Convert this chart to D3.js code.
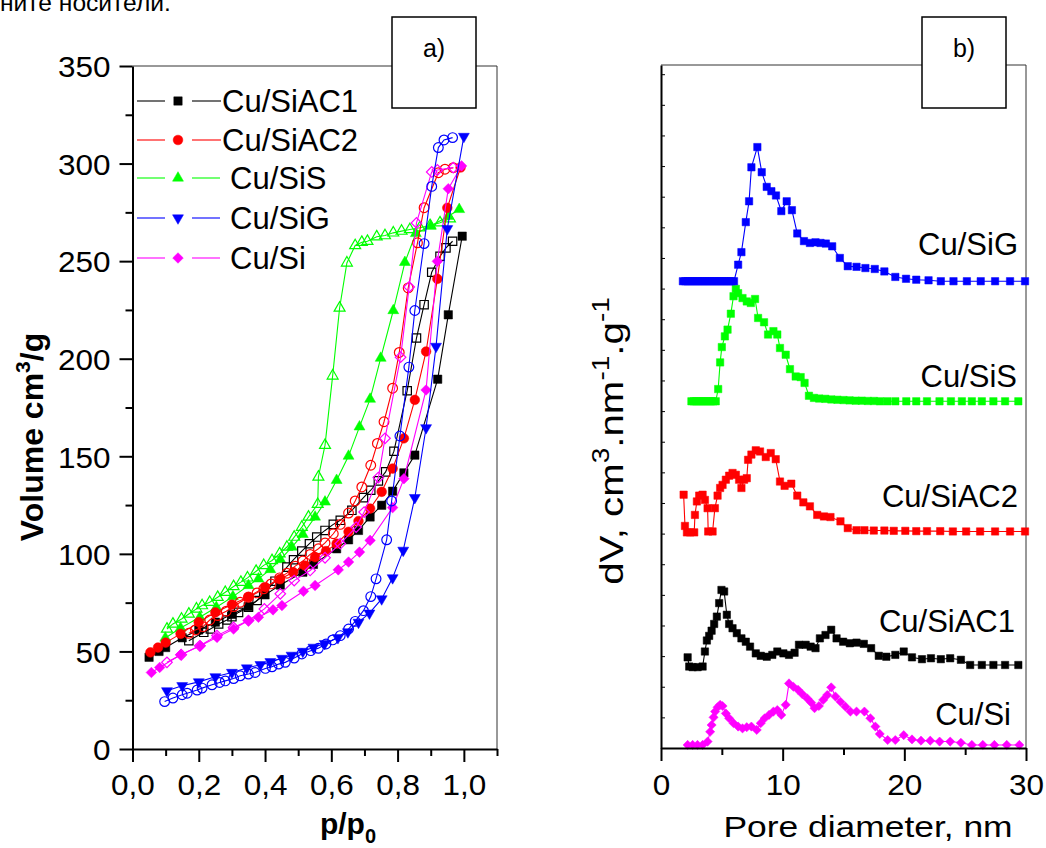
<!DOCTYPE html>
<html><head><meta charset="utf-8">
<script src="https://cdn.jsdelivr.net/npm/d3@7"></script>
<style>html,body{margin:0;padding:0;background:#fff;}svg{display:block;}</style>
</head><body>
<svg id="c" width="1046" height="848"></svg>
<script>
// ---------------- DATA ----------------
// Panel a: N2 isotherms, [p/p0, Volume cm3/g]
const seriesNames = ["Cu/SiAC1", "Cu/SiAC2", "Cu/SiS", "Cu/SiG", "Cu/Si"];
const xTicksA = [0, 0.2, 0.4, 0.6, 0.8, 1.0];
const yTicksA = [0, 50, 100, 150, 200, 250, 300, 350];
const xTicksB = [0, 10, 20, 30];

const ac1Ads = [[0.05,47],[0.08,50],[0.10,52],[0.15,57],[0.20,61],[0.25,65],[0.30,69],[0.35,73],[0.40,79],[0.446,84],[0.514,90.6],[0.546,94.6],[0.616,102.6],[0.652,107.2],[0.682,112],[0.717,118.9],[0.752,124.9],[0.785,132.1],[0.819,141.5],[0.852,150.6],[0.921,189.5],[0.953,222.5],[0.995,262.8]];
const ac1Des = [[0.966,260.2],[0.946,256.8],[0.928,252.5],[0.903,244.3],[0.880,227.7],[0.857,210.6],[0.829,183.6],[0.789,152.6],[0.764,142],[0.742,137.4],[0.719,132.6],[0.697,128.8],[0.662,122.3],[0.627,117.2],[0.606,115.1],[0.581,112],[0.556,108.6],[0.534,105.2],[0.511,101.4],[0.486,97],[0.466,93.2],[0.43,86],[0.396,79.5],[0.376,76.1],[0.35,72.6],[0.32,70],[0.30,67.8],[0.285,66.1],[0.26,64.1],[0.235,61.5],[0.215,59.8],[0.17,55.5]];

const ac2Ads = [[0.054,49.5],[0.077,52],[0.10,54.5],[0.145,59],[0.20,65],[0.25,70],[0.30,74],[0.35,78],[0.40,83],[0.445,87],[0.485,90.6],[0.52,94],[0.551,98.3],[0.584,101.4],[0.616,105.2],[0.652,111.3],[0.682,116.8],[0.717,123.2],[0.752,131.8],[0.785,143.7],[0.819,159.2],[0.852,178.9],[0.886,203.7],[0.920,240.9],[0.950,277.3],[0.99,298]];
const ac2Des = [[0.968,297.9],[0.943,297.1],[0.923,295.3],[0.880,277.4],[0.860,259.4],[0.832,236.3],[0.805,203.2],[0.785,184.9],[0.759,167.7],[0.739,156.6],[0.719,145.4],[0.692,134.3],[0.672,127.1],[0.652,120.9],[0.627,115.1],[0.606,110.3],[0.581,105.6],[0.561,102.6],[0.536,99.7],[0.514,96.3],[0.491,93.7],[0.466,90.1],[0.444,87.7],[0.418,84.6],[0.396,82.1],[0.376,80],[0.35,77.8],[0.325,75.2],[0.305,73],[0.283,70.6],[0.257,68.4],[0.233,66.1],[0.213,62.7],[0.19,61],[0.17,59.3]];

const sAds = [[0.099,56.9],[0.145,62],[0.203,67.5],[0.253,72.6],[0.303,78.1],[0.35,83.8],[0.38,87.2],[0.416,92],[0.446,97.1],[0.481,103.5],[0.514,110],[0.551,118.9],[0.581,126.6],[0.616,137.7],[0.652,150.1],[0.685,165.1],[0.717,179.3],[0.749,200.3],[0.787,224.7],[0.822,249.4],[0.855,264.2],[0.90,268],[0.953,273],[0.986,276.5]];
const sDes = [[0.958,271.7],[0.928,269.7],[0.898,268.3],[0.867,267.1],[0.837,266.2],[0.812,265.4],[0.787,264.5],[0.762,263.1],[0.737,262.5],[0.709,260.2],[0.692,259.7],[0.672,258],[0.647,249.1],[0.625,226],[0.604,191.2],[0.581,155.7],[0.561,139.4],[0.559,125.4],[0.531,118.9],[0.511,113.7],[0.488,108.6],[0.466,103.5],[0.444,100.1],[0.421,96.6],[0.396,94.1],[0.373,91.1],[0.347,87.7],[0.327,85.5],[0.305,83.3],[0.28,80.3],[0.257,77.8],[0.233,75.2],[0.21,73.5],[0.193,71.8],[0.17,69.2],[0.148,66.6],[0.122,64.1],[0.104,61.5]];

const gAds = [[0.104,29.8],[0.15,32.4],[0.20,34.4],[0.25,37],[0.30,39.2],[0.345,41.5],[0.386,43.2],[0.416,44.7],[0.451,46.4],[0.48,48],[0.514,50],[0.546,52.1],[0.58,54],[0.62,57],[0.65,60],[0.682,64.9],[0.715,69.6],[0.752,76.9],[0.785,87.7],[0.817,101.8],[0.852,128.8],[0.886,164.6],[0.916,206.3],[0.950,266.6],[1.0,313.9]];
const gDes = [[0.966,313.3],[0.940,312.1],[0.923,308.2],[0.903,288.3],[0.880,259],[0.852,224.7],[0.834,195.7],[0.807,160.4],[0.782,127.1],[0.767,107.2],[0.735,87.2],[0.719,78.1],[0.697,70.9],[0.672,65.4],[0.652,61.5],[0.627,58.1],[0.604,55.9],[0.584,53.8],[0.561,51.6],[0.538,50.4],[0.511,48.7],[0.488,46.6],[0.461,44.4],[0.441,43.5],[0.421,42.1],[0.401,41.3],[0.37,39.2],[0.35,38.4],[0.325,37.5],[0.305,36.1],[0.28,34.9],[0.263,34.1],[0.24,32.9],[0.21,31.2],[0.195,30.2],[0.165,28.6],[0.15,27.8],[0.122,26.1],[0.097,24.3]];

const siAds = [[0.057,39.2],[0.082,41.8],[0.145,48.3],[0.205,52.9],[0.255,57.2],[0.305,61.5],[0.35,65.8],[0.38,67.5],[0.424,71.3],[0.451,73.5],[0.516,80.8],[0.551,83.8],[0.621,91.8],[0.652,95.8],[0.685,100.9],[0.717,106.9],[0.785,123.7],[0.819,138.5],[0.886,184],[0.920,249.9],[0.953,287.1],[0.993,298.8]];
const siDes = [[0.968,297.9],[0.920,296.7],[0.903,295.7],[0.857,269.6],[0.835,236.8],[0.809,200.8],[0.762,159.2],[0.742,139.1],[0.699,121.4],[0.675,113.7],[0.627,105.2],[0.581,98],[0.536,91.5],[0.488,86.3],[0.446,79.5],[0.398,71.8],[0.35,65.8],[0.305,62.3],[0.255,58.1],[0.203,52.9],[0.147,48.3],[0.104,44.4]];

// Panel b: pore size distribution, [pore diameter nm, dV (offset, arb. units)]
const psdG = [[1.8,15.24],[2.0,15.24],[2.2,15.24],[2.4,15.24],[2.6,15.24],[2.8,15.24],[3.0,15.24],[3.2,15.24],[3.4,15.24],[3.6,15.24],[3.8,15.24],[4.0,15.24],[4.2,15.24],[4.4,15.24],[4.6,15.24],[4.8,15.24],[5.0,15.24],[5.2,15.24],[5.4,15.24],[5.6,15.24],[5.8,15.24],[6.0,15.24],[6.34,15.78],[6.61,16.19],[6.97,17.17],[7.24,17.85],[7.43,18.96],[7.92,19.62],[8.28,18.80],[8.69,18.32],[9.07,18.18],[9.45,18.04],[9.89,17.53],[10.33,17.85],[10.76,17.56],[11.20,16.80],[11.75,16.55],[12.24,16.49],[12.70,16.51],[13.11,16.49],[13.55,16.47],[14.07,16.38],[14.70,16.00],[15.35,15.73],[16.07,15.71],[16.80,15.67],[17.57,15.64],[18.36,15.56],[19.26,15.38],[20.14,15.32],[20.98,15.29],[21.99,15.27],[23.0,15.24],[24.04,15.24],[25.14,15.24],[26.28,15.24],[27.46,15.24],[28.69,15.24],[29.92,15.24]];
const psdS = [[2.5,11.32],[2.7,11.32],[2.9,11.32],[3.1,11.32],[3.3,11.32],[3.5,11.32],[3.7,11.32],[3.9,11.32],[4.1,11.32],[4.3,11.32],[4.5,11.32],[4.70,11.72],[4.86,12.59],[5.0,13.09],[5.25,13.44],[5.47,13.66],[5.74,14.18],[5.96,14.75],[6.15,14.99],[6.34,14.85],[6.70,14.69],[7.05,14.58],[7.38,14.53],[7.73,14.66],[7.98,14.04],[8.47,13.90],[8.80,13.50],[9.24,13.61],[9.56,13.50],[9.78,13.06],[10.25,12.84],[10.60,12.37],[11.07,12.13],[11.48,12.11],[11.80,11.92],[12.16,11.50],[12.57,11.43],[13.0,11.41],[13.5,11.40],[14.0,11.38],[14.5,11.37],[15.0,11.36],[15.5,11.35],[16.0,11.34],[16.5,11.34],[17.0,11.33],[17.5,11.33],[18.0,11.32],[18.6,11.32],[19.26,11.32],[20.16,11.32],[20.98,11.32],[21.86,11.32],[22.89,11.32],[23.83,11.32],[24.73,11.32],[25.55,11.32],[26.37,11.32],[27.32,11.32],[28.28,11.32],[29.37,11.32]];
const psdAC2 = [[1.86,8.27],[1.97,7.25],[2.13,7.04],[2.4,7.04],[2.73,7.04],[2.79,7.61],[2.95,8.05],[3.14,8.24],[3.42,8.27],[3.61,8.10],[3.83,7.83],[3.88,7.07],[4.24,7.07],[4.43,7.83],[4.65,8.24],[4.86,8.49],[5.06,8.59],[5.33,8.76],[5.60,8.89],[5.88,8.98],[6.15,8.92],[6.42,8.76],[6.61,8.49],[6.83,8.76],[7.05,8.81],[7.16,9.41],[7.43,9.58],[7.79,9.72],[8.14,9.68],[8.61,9.50],[9.02,9.63],[9.43,9.43],[9.78,8.70],[10.16,8.56],[10.71,8.63],[11.20,8.24],[11.70,8.02],[12.24,7.89],[12.84,7.61],[13.39,7.56],[13.93,7.54],[14.75,7.40],[15.35,7.18],[16.07,7.11],[16.72,7.11],[17.49,7.10],[18.36,7.10],[19.13,7.09],[20.08,7.09],[20.98,7.08],[21.86,7.08],[22.95,7.08],[23.99,7.07],[25.08,7.07],[26.23,7.07],[27.46,7.07],[28.69,7.07],[29.92,7.07]];
const psdAC1 = [[2.19,2.96],[2.32,2.66],[2.60,2.64],[3.01,2.64],[3.42,2.66],[3.61,3.15],[3.77,3.51],[3.96,3.66],[4.16,3.83],[4.37,4.05],[4.59,4.29],[4.78,4.73],[4.97,5.16],[5.19,5.11],[5.41,4.35],[5.60,4.05],[5.88,3.91],[6.23,3.75],[6.61,3.58],[6.97,3.47],[7.32,3.31],[7.79,3.09],[8.20,3.01],[8.69,2.98],[9.15,3.04],[9.56,3.15],[10.06,3.09],[10.52,3.04],[10.98,3.11],[11.34,3.37],[11.89,3.37],[12.30,3.31],[12.70,3.26],[13.06,3.58],[13.52,3.69],[13.99,3.86],[14.43,3.58],[14.97,3.47],[15.52,3.42],[16.07,3.44],[16.67,3.40],[17.27,3.26],[17.90,3.01],[18.52,2.98],[19.26,3.04],[19.95,3.15],[20.63,2.96],[21.45,2.90],[22.19,2.93],[23.0,2.90],[23.77,2.93],[24.65,2.88],[25.41,2.71],[26.37,2.71],[27.32,2.71],[28.28,2.71],[29.37,2.71]];
const psdSi = [[2.19,0.10],[2.6,0.10],[3.0,0.10],[3.42,0.10],[3.83,0.21],[4.04,0.53],[4.16,0.75],[4.32,1.0],[4.45,1.19],[4.65,1.33],[4.86,1.41],[5.06,1.37],[5.33,1.13],[5.60,0.97],[5.96,0.81],[6.34,0.70],[6.70,0.64],[7.05,0.68],[7.43,0.70],[7.87,0.59],[8.20,0.81],[8.52,0.97],[8.88,1.08],[9.24,1.19],[9.56,1.24],[9.89,1.08],[10.25,1.41],[10.52,2.11],[10.88,2.0],[11.26,1.90],[11.61,1.76],[12.02,1.62],[12.35,1.48],[12.62,1.30],[12.98,1.37],[13.33,1.57],[13.66,1.73],[13.99,1.98],[14.34,1.68],[14.75,1.51],[15.16,1.35],[15.57,1.19],[16.07,1.19],[16.72,1.19],[17.21,0.97],[17.62,0.70],[17.98,0.46],[18.63,0.26],[19.26,0.26],[19.95,0.42],[20.63,0.28],[21.37,0.24],[22.13,0.24],[22.9,0.21],[23.77,0.21],[24.65,0.17],[25.55,0.10],[26.45,0.10],[27.4,0.10],[28.42,0.10],[29.45,0.10]];

// ---------------- DRAWING ----------------
const FONT = "'Liberation Sans', Arial, Helvetica, sans-serif";
const svg = d3.select("#c");
svg.append("rect").attr("width",1046).attr("height",848).attr("fill","#fff");

const xa = d3.scaleLinear([0,1.1],[132.5,497]);
const ya = d3.scaleLinear([0,350],[749,66]);
const xb = d3.scaleLinear([0,30],[661,1026]);
const yb = d3.scaleLinear([0,22.3],[748,65]);

const colors = {"Cu/SiAC1":"#000000","Cu/SiAC2":"#ff0000","Cu/SiS":"#00ff00","Cu/SiG":"#0000ff","Cu/Si":"#ff00ff"};
const shapesFilled = {"Cu/SiAC1":"square","Cu/SiAC2":"circle","Cu/SiS":"tri","Cu/SiG":"tridown","Cu/Si":"diamond"};
const shapesOpen   = {"Cu/SiAC1":"square","Cu/SiAC2":"circle","Cu/SiS":"tri","Cu/SiG":"circle","Cu/Si":"diamond"};

function symPath(shape, scale){
  const s = scale||1;
  if(shape==="square") return {d:d3.symbol(d3.symbolSquare, 70*s)(), rot:0};
  if(shape==="circle") return {d:d3.symbol(d3.symbolCircle, 74*s)(), rot:0};
  if(shape==="tri") return {d:d3.symbol(d3.symbolTriangle, 52*s)(), rot:0};
  if(shape==="tridown") return {d:d3.symbol(d3.symbolTriangle, 52*s)(), rot:180};
  if(shape==="diamond") return {d:d3.symbol(d3.symbolSquare, 56*s)(), rot:45};
}

function text(g, x, y, opt){
  return g.append("text")
    .attr("transform", `translate(${x},${y}) rotate(${opt.rot||0}) scale(${opt.sx||1},1)`)
    .attr("font-family", FONT)
    .attr("font-size", opt.size)
    .attr("font-weight", opt.weight||"normal")
    .attr("text-anchor", opt.anchor||"start")
    .attr("fill", "#000");
}

// top cut-off text
text(svg, 0, 11, {size:23, sx:1.07}).text("ните носители.");

function drawSeries(g, data, xs, ys, name, filled, shape, scale){
  const col = colors[name];
  const line = d3.line().x(d=>xs(d[0])).y(d=>ys(d[1]));
  g.append("path").attr("d", line(data)).attr("fill","none").attr("stroke",col).attr("stroke-width",1.1);
  const sp = symPath(shape, scale);
  g.selectAll(null).data(data).enter().append("path")
    .attr("d", sp.d)
    .attr("transform", d=>`translate(${xs(d[0])},${ys(d[1])}) rotate(${sp.rot})`)
    .attr("fill", filled? col : "none")
    .attr("stroke", col)
    .attr("stroke-width", filled? 0.5 : 1.2);
}

// ---------- Panel a ----------
const ga = svg.append("g");
ga.append("line").attr("x1",132.5).attr("x2",497).attr("y1",66).attr("y2",66).attr("stroke","#333").attr("stroke-width",1);
ga.append("line").attr("x1",497).attr("x2",497).attr("y1",66).attr("y2",749).attr("stroke","#333").attr("stroke-width",1);

const plotA = ga.append("g");
const isoSets = [
  [sDes,"Cu/SiS",false],[sAds,"Cu/SiS",true],
  [ac1Des,"Cu/SiAC1",false],[ac1Ads,"Cu/SiAC1",true],
  [ac2Des,"Cu/SiAC2",false],[ac2Ads,"Cu/SiAC2",true],
  [siDes,"Cu/Si",false],[siAds,"Cu/Si",true],
  [gDes,"Cu/SiG",false],[gAds,"Cu/SiG",true]
];
isoSets.forEach(s=> drawSeries(plotA, s[0], xa, ya, s[1], s[2], s[2]?shapesFilled[s[1]]:shapesOpen[s[1]], 1));

const fmtA = d => d3.format(".1f")(d).replace(".", ",");
const TS = 1.05;

function styleAxis(g){
  g.select(".domain").attr("stroke","#000").attr("stroke-width",2);
  g.selectAll(".tick line").attr("stroke","#000").attr("stroke-width",2);
}
const yAxA = ga.append("g").attr("transform","translate(132.5,0)")
  .call(d3.axisLeft(ya).tickValues(yTicksA).tickSize(13).tickSizeOuter(0).tickFormat(d3.format("d")));
styleAxis(yAxA);
yAxA.selectAll(".tick text").attr("font-family",FONT).attr("font-size",30).attr("fill","#000")
  .attr("x", -22/TS).attr("dy","0.36em").attr("transform",`scale(${TS},1)`);
const yMinA = ga.append("g").attr("transform","translate(132.5,0)")
  .call(d3.axisLeft(ya).tickValues(yTicksA.slice(0,-1).map(v=>v+25)).tickSize(7).tickFormat(""));
yMinA.select(".domain").remove();
yMinA.selectAll(".tick line").attr("stroke","#000").attr("stroke-width",2);

const xAxA = ga.append("g").attr("transform","translate(0,749)")
  .call(d3.axisBottom(xa).tickValues(xTicksA).tickSize(13).tickSizeOuter(0).tickFormat(fmtA));
styleAxis(xAxA);
xAxA.selectAll(".tick text").attr("font-family",FONT).attr("font-size",30).attr("fill","#000")
  .attr("y", 46).attr("dy",0).attr("transform",`scale(${TS},1)`)
  .attr("x", 0);
const xMinA = ga.append("g").attr("transform","translate(0,749)")
  .call(d3.axisBottom(xa).tickValues(xTicksA.map(v=>v+0.1)).tickSize(7).tickFormat(""));
xMinA.select(".domain").remove();
xMinA.selectAll(".tick line").attr("stroke","#000").attr("stroke-width",2);

const tya = text(ga, 43, 437, {size:32, weight:"bold", anchor:"middle", rot:-90});
tya.append("tspan").text("Volume cm");
tya.append("tspan").attr("font-size",21).attr("dy",-13).text("3");
tya.append("tspan").attr("dy",13).text("/g");
const txa = text(ga, 348, 834, {size:30, weight:"bold", anchor:"middle"});
txa.append("tspan").text("p/p");
txa.append("tspan").attr("font-size",20).attr("dy",9).text("0");

// legend
const legY = [101, 140, 178, 218, 258];
const legTextX = [222, 222, 230, 230, 230];
const legRightEnd = [221, 221, 220, 220, 220];
seriesNames.forEach((n,i)=>{
  const y = legY[i], col = colors[n];
  ga.append("line").attr("x1",137).attr("x2",165).attr("y1",y).attr("y2",y).attr("stroke",col).attr("stroke-width",1.1);
  ga.append("line").attr("x1",192).attr("x2",legRightEnd[i]).attr("y1",y).attr("y2",y).attr("stroke",col).attr("stroke-width",1.1);
  const sp = symPath(shapesFilled[n]);
  ga.append("path").attr("d",sp.d).attr("transform",`translate(178,${y}) rotate(${sp.rot})`).attr("fill",col).attr("stroke",col).attr("stroke-width",0.5);
  text(ga, legTextX[i], y+11, {size:31}).text(n);
});

ga.append("rect").attr("x",392).attr("y",17).attr("width",84).attr("height",91).attr("fill","#fff").attr("stroke","#000").attr("stroke-width",1.5);
text(ga, 434, 57, {size:25, anchor:"middle"}).text("a)");

// ---------- Panel b ----------
const gb = svg.append("g");
gb.append("line").attr("x1",661).attr("x2",1026).attr("y1",65).attr("y2",65).attr("stroke","#333").attr("stroke-width",1);
gb.append("line").attr("x1",1026).attr("x2",1026).attr("y1",65).attr("y2",748).attr("stroke","#333").attr("stroke-width",1);

const plotB = gb.append("g");
drawSeries(plotB, psdSi, xb, yb, "Cu/Si", true, "diamond", 0.75);
drawSeries(plotB, psdAC1, xb, yb, "Cu/SiAC1", true, "square", 0.78);
drawSeries(plotB, psdAC2, xb, yb, "Cu/SiAC2", true, "square", 0.78);
drawSeries(plotB, psdS, xb, yb, "Cu/SiS", true, "square", 0.78);
drawSeries(plotB, psdG, xb, yb, "Cu/SiG", true, "square", 0.78);

const xAxB = gb.append("g").attr("transform","translate(0,748)")
  .call(d3.axisBottom(xb).tickValues(xTicksB).tickSize(13).tickSizeOuter(0).tickFormat(d3.format("d")));
styleAxis(xAxB);
xAxB.selectAll(".tick text").attr("font-family",FONT).attr("font-size",30).attr("fill","#000")
  .attr("y", 47).attr("dy",0).attr("transform",`scale(${TS},1)`);
const xMinB = gb.append("g").attr("transform","translate(0,748)")
  .call(d3.axisBottom(xb).tickValues([5,15,25]).tickSize(7).tickFormat(""));
xMinB.select(".domain").remove();
xMinB.selectAll(".tick line").attr("stroke","#000").attr("stroke-width",2);

const yAxB = gb.append("g").attr("transform","translate(661,0)")
  .call(d3.axisRight(yb).tickValues(d3.range(0,23)).tickSize(4).tickSizeOuter(0).tickFormat(""));
yAxB.select(".domain").attr("stroke","#000").attr("stroke-width",2);
yAxB.selectAll(".tick line").attr("stroke","#000").attr("stroke-width",1);

text(gb, 868, 837, {size:30, anchor:"middle", sx:1.18}).text("Pore diameter, nm");
const tyb = text(gb, 623, 441, {size:33, anchor:"middle", rot:-90, sx:1.22});
tyb.append("tspan").text("dV, cm");
tyb.append("tspan").attr("font-size",23).attr("dy",-14).text("3");
tyb.append("tspan").attr("dy",14).text(".nm");
tyb.append("tspan").attr("font-size",23).attr("dy",-14).text("-1");
tyb.append("tspan").attr("dy",14).text(".g");
tyb.append("tspan").attr("font-size",23).attr("dy",-14).text("-1");

const labB = [["Cu/SiG",1018,255],["Cu/SiS",1017,387],["Cu/SiAC2",1018,507],["Cu/SiAC1",1015,632],["Cu/Si",1011,725]];
labB.forEach(l=> text(gb, l[1], l[2], {size:31, anchor:"end"}).text(l[0]));

gb.append("rect").attr("x",922).attr("y",17).attr("width",84).attr("height",91).attr("fill","#fff").attr("stroke","#000").attr("stroke-width",1.5);
text(gb, 964, 57, {size:25, anchor:"middle"}).text("b)");
</script>
</body></html>
